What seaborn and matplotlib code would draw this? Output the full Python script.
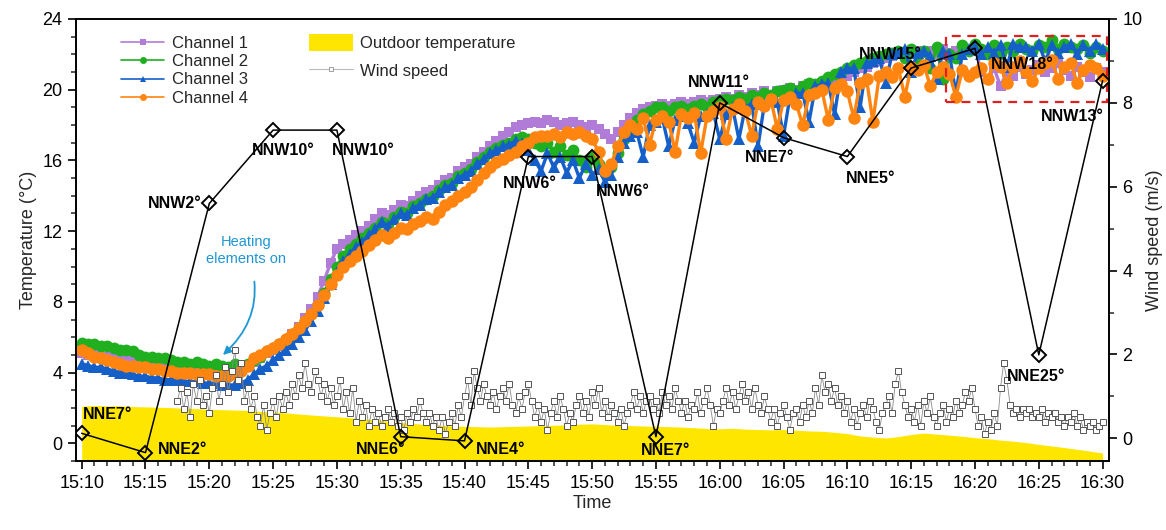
import numpy as np
import matplotlib
matplotlib.use("Agg")
import matplotlib.pyplot as plt
import seaborn as sns
from matplotlib.ticker import MultipleLocator
from matplotlib.patches import Rectangle, Patch
from matplotlib.lines import Line2D

# ---------------- data ----------------
time_labels = ["15:10", "15:15", "15:20", "15:25", "15:30", "15:35", "15:40", "15:45", "15:50",
               "15:55", "16:00", "16:05", "16:10", "16:15", "16:20", "16:25", "16:30"]

# channel temperatures (deg C), sampled every 0.5 min from 15:10
ch1 = [5.1, 5.0, 5.0, 4.9, 4.9, 4.8, 4.8, 4.7, 4.7, 4.6, 4.5, 4.5, 4.4, 4.4, 4.3, 4.3, 4.2, 4.2, 4.1, 4.1, 4.0, 4.0, 4.1, 4.0, 4.2,
       4.3, 4.4, 4.6, 4.8, 5.1, 5.3, 5.5, 5.8, 6.2, 6.6, 7.1, 7.6, 8.3, 9.2, 10.2, 11.0,
       11.3, 11.5, 11.8, 12.0, 12.3, 12.7, 13.0, 12.9, 13.2, 13.5, 13.4, 13.7, 14.0, 14.2, 14.3, 14.6, 14.9, 15.0, 15.4, 15.6,
       15.8, 16.2, 16.5, 16.8, 17.1, 17.4, 17.6, 17.9, 18.0, 18.1, 18.2, 18.1, 18.3, 18.2, 18.0, 18.1, 18.2, 18.0, 17.9, 18.0,
       17.8, 17.5, 17.2, 17.6, 18.0, 18.4, 18.7, 18.9, 19.0, 19.1, 19.2, 19.1, 19.2, 19.3, 19.2, 19.3, 19.4, 19.3, 19.4, 19.5,
       19.6, 19.5, 19.7, 19.6, 19.8, 19.7, 19.9, 19.3, 19.9, 20.0, 20.1, 20.0, 20.2, 20.3, 20.2, 20.4, 20.5, 20.6, 20.7, 20.8,
       21.0, 21.2, 21.3, 21.5, 21.6, 21.8, 21.9, 22.0, 22.1, 22.0, 22.2, 22.1, 22.2, 22.0, 22.3, 22.1, 22.2, 22.3, 22.2, 22.4,
       21.0, 20.6, 21.2, 20.2, 21.0, 20.8, 21.3, 20.9, 21.1, 21.4, 21.0, 21.2, 21.5, 21.1, 20.8, 21.3, 21.0, 20.7, 21.2, 21.0]
ch2 = [5.7, 5.6, 5.6, 5.5, 5.5, 5.4, 5.3, 5.3, 5.2, 5.0, 4.9, 4.9, 4.8, 4.8, 4.7, 4.6, 4.6, 4.5, 4.6, 4.5, 4.4, 4.5, 4.4, 4.3, 4.5,
       4.4, 4.5, 4.7, 4.9, 5.2, 5.4, 5.6, 5.9, 6.2, 6.5, 6.9, 7.3, 7.8, 8.5, 9.3, 10.0,
       10.6, 11.0, 11.3, 11.6, 11.9, 12.2, 12.5, 12.4, 12.8, 13.1, 13.0, 13.4, 13.6, 13.8, 14.0, 14.3, 14.6, 14.7, 15.1, 15.3,
       15.5, 15.9, 16.2, 16.5, 16.7, 16.9, 17.0, 17.2, 17.3, 17.2, 17.0, 16.8, 17.0, 16.5, 16.8, 16.3, 16.6, 16.0, 15.6, 16.2,
       15.8, 15.3, 15.6, 16.4, 17.2, 17.8, 18.3, 18.6, 18.8, 19.0, 19.0, 18.8, 19.0, 19.1, 18.9, 19.1, 19.2, 19.0, 19.3, 19.4,
       19.5, 19.4, 19.6, 19.5, 19.7, 19.6, 19.8, 19.7, 19.9, 20.0, 20.1, 19.9, 20.2, 20.4, 20.3, 20.5, 20.7, 20.9, 21.0, 21.2,
       21.4, 21.5, 21.6, 21.8, 21.9, 22.0, 22.1, 22.2, 21.8, 22.3, 21.5, 22.2, 21.2, 22.4, 20.6, 22.0, 21.8, 22.5, 22.2, 22.6,
       22.3, 22.0, 22.5, 22.1, 22.4, 22.2, 22.6, 22.3, 22.2, 22.5, 22.4, 22.8, 22.3, 22.6, 22.4, 22.3, 22.5, 22.1, 22.4, 22.2]
ch3 = [4.5, 4.4, 4.3, 4.3, 4.2, 4.1, 4.0, 4.0, 3.9, 3.8, 3.8, 3.7, 3.7, 3.6, 3.6, 3.6, 3.5, 3.5, 3.5, 3.4, 3.4, 3.4, 3.3, 3.3, 3.3,
       3.4, 3.6, 3.9, 4.2, 4.4, 4.7, 5.0, 5.3, 5.6, 6.0, 6.4, 6.9, 7.5, 8.2, 9.0, 9.7,
       10.3, 10.7, 11.1, 11.4, 11.8, 12.1, 12.5, 12.3, 12.7, 13.0, 12.9, 13.3, 13.5, 13.8, 13.9, 14.2, 14.5, 14.6, 15.0, 15.2,
       15.4, 15.8, 16.1, 16.4, 16.6, 16.8, 16.9, 17.1, 17.0, 16.6, 16.0, 15.4, 16.4, 15.6, 16.2, 15.3, 16.0, 15.0, 15.8, 15.2,
       15.5, 14.8, 15.2, 16.2, 17.0, 17.4, 17.6, 16.2, 18.0, 18.2, 18.4, 16.8, 18.3, 18.5, 18.1, 17.0, 18.5, 18.6, 18.7, 17.2,
       18.6, 19.0, 17.2, 19.0, 19.2, 16.8, 19.2, 19.4, 19.3, 17.4, 19.6, 19.8, 19.8, 18.2, 20.2, 20.3, 20.4, 18.6, 21.0, 21.2,
       21.2, 19.0, 21.5, 21.6, 21.8, 20.4, 22.0, 22.1, 22.3, 21.0, 22.1, 22.2, 21.9, 20.6, 22.2, 22.0, 19.8, 22.0, 22.3, 22.4,
       22.0, 22.4, 22.1, 22.5, 21.3, 22.6, 22.4, 22.4, 22.2, 22.6, 21.6, 22.5, 22.1, 22.4, 22.6, 22.0, 22.5, 22.2, 22.6, 22.3]
ch4 = [5.3, 5.1, 4.9, 4.8, 4.7, 4.6, 4.5, 4.4, 4.4, 4.3, 4.3, 4.2, 4.2, 4.1, 4.1, 4.0, 4.0, 4.0, 3.9, 3.9, 3.9, 3.8, 3.8, 3.8, 3.9,
       4.1, 4.4, 4.8, 5.0, 5.2, 5.4, 5.6, 5.9, 6.2, 6.5, 6.9, 7.3, 7.8, 8.4, 9.0, 9.5,
       10.0, 10.3, 10.6, 10.9, 11.2, 11.5, 11.8, 11.6, 11.9, 12.2, 12.1, 12.4, 12.6, 12.8, 12.7, 13.1, 13.5, 13.7, 14.0, 14.2,
       14.5, 14.9, 15.3, 15.6, 15.9, 16.1, 16.3, 16.5, 16.8, 17.0, 17.3, 17.4, 17.4, 17.5, 17.3, 17.6, 17.5, 17.6, 17.4, 17.2,
       16.5, 15.4, 15.8, 16.8, 17.6, 18.0, 17.8, 18.4, 16.9, 18.3, 18.5, 18.2, 16.5, 18.6, 18.4, 18.7, 16.4, 18.5, 18.8, 19.0,
       17.2, 18.9, 19.2, 18.8, 17.4, 19.3, 19.1, 19.5, 17.8, 19.4, 19.6, 19.2, 18.0, 19.7, 19.8, 20.0, 18.3, 20.1, 20.3, 19.9,
       18.4, 20.4, 20.6, 18.2, 20.8, 21.0, 20.7, 21.2, 19.6, 21.3, 21.1, 21.4, 20.2, 21.0, 21.3, 20.9, 19.6, 21.1, 20.8, 21.0,
       21.2, 20.6, 21.5, 21.3, 20.4, 21.3, 21.6, 21.0, 20.5, 21.2, 21.5, 21.7, 20.6, 21.3, 21.5, 20.4, 21.1, 21.4, 21.2, 20.8]

# outdoor temperature (deg C), every 1 min from 15:10
outdoor = [2.10, 2.14, 2.12, 2.13, 2.08, 2.06, 2.04, 2.02, 1.98, 1.96, 1.92, 1.90, 1.88, 1.86, 1.80, 1.76,
           1.72, 1.66, 1.60, 1.55, 1.50, 1.45, 1.38, 1.32, 1.25, 1.18, 1.12, 1.06, 1.02, 0.98, 0.96, 0.94,
           0.92, 0.94, 0.96, 0.98, 1.00, 1.02, 1.05, 1.08, 1.10, 1.06, 1.02, 1.00, 0.98, 0.96, 0.94, 0.92,
           0.88, 0.84, 0.82, 0.85, 0.80, 0.78, 0.76, 0.78, 0.74, 0.70, 0.68, 0.62, 0.55, 0.42, 0.35, 0.30,
           0.38, 0.50, 0.58, 0.52, 0.46, 0.40, 0.32, 0.26, 0.18, 0.12, 0.04, -0.06, -0.15, -0.24, -0.34, -0.44, -0.55]

# wind speed (m/s), every 0.25 min from 15:17.5
wind = [0.9, 1.2,
        0.7, 1.1, 0.5, 1.3, 0.9, 1.4, 0.8, 1.0, 0.6, 1.2, 1.5, 0.9, 1.3, 1.7, 1.1, 1.6,
        2.1, 1.4, 1.8, 0.9, 1.2, 0.7, 1.0, 0.5, 0.3, 0.8, 0.2, 0.6, 0.9, 0.5, 1.0, 0.7,
        1.1, 0.8, 1.3, 1.0, 1.5, 1.2, 1.8, 1.3, 1.1, 1.6, 1.4, 1.0, 1.3, 0.9, 1.2, 0.8,
        1.0, 1.4, 0.7, 1.1, 0.6, 1.2, 0.4, 0.9, 0.5, 0.8, 0.3, 0.7, 0.4, 0.6, 0.3, 0.5,
        0.7, 0.4, 0.6, 0.3, 0.5, 0.2, 0.6, 0.4, 0.7, 0.5, 0.9, 0.6, 0.4, 0.6, 0.3, 0.5,
        0.2, 0.5, 0.1, 0.4, 0.6, 0.3, 0.8, 0.5, 1.0, 1.4, 0.8, 1.6, 1.2, 0.9, 1.3, 1.0,
        0.8, 1.1, 0.7, 1.0, 1.2, 0.9, 1.3, 0.8, 0.6, 1.0, 0.7, 1.1, 1.3, 0.9, 0.5, 0.8,
        0.4, 0.7, 0.2, 0.6, 0.9, 0.5, 1.0, 0.7, 0.3, 0.6, 0.4, 0.8, 1.0, 0.6, 0.9, 0.5,
        1.1, 0.8, 1.2, 0.6, 0.9, 0.5, 0.8, 0.6, 0.4, 0.7, 0.3, 0.6, 0.8, 1.1, 0.7, 1.0,
        0.6, 0.9, 1.0, 0.7, 0.9, 0.6, 1.1, 0.8, 1.0, 0.7, 1.2, 0.9, 0.6, 0.9, 0.5, 0.8,
        0.7, 1.1, 0.6, 0.9, 1.2, 0.8, 0.3, 0.7, 0.6, 0.9, 1.2, 0.8, 1.1, 0.7, 1.0, 1.3,
        0.9, 1.1, 0.7, 1.2, 0.8, 0.6, 1.0, 0.7, 0.4, 0.7, 0.3, 0.6, 0.8, 0.5, 0.2, 0.6,
        0.7, 0.4, 0.8, 0.5, 0.9, 0.6, 1.2, 0.8, 1.5, 1.1, 1.3, 0.9, 1.2, 0.8, 1.0, 0.6,
        0.9, 0.4, 0.7, 0.3, 0.6, 0.8, 0.5, 0.9, 0.7, 0.4, 0.2, 0.6, 0.8, 1.0, 0.6, 1.3,
        1.6, 1.1, 0.8, 0.5, 0.7, 0.4, 0.8, 0.3, 0.9, 0.6, 1.0, 0.5, 0.3, 0.6, 0.8, 0.4,
        0.7, 0.5, 0.9, 0.6, 0.8, 1.1, 0.9, 1.2, 0.7, 0.3, 0.5, 0.1, 0.4, 0.2, 0.6, 0.3,
        1.2, 1.8, 1.4, 0.8, 0.6, 0.7, 0.5, 0.7, 0.6, 0.7, 0.5, 0.6, 0.5, 0.7, 0.4, 0.6,
        0.5, 0.6, 0.4, 0.5, 0.3, 0.5, 0.4, 0.6, 0.3, 0.5, 0.2, 0.4, 0.3, 0.4, 0.2, 0.3,
        0.4]

# wind direction readings every 5 min
dir_speed = [0.12, -0.34, 5.6, 7.35, 7.35, 0.04, -0.06, 6.72, 6.72, 0.04, 8.0, 7.17, 6.72, 8.83, 9.3, 1.99, 8.53]
dir_labels = ["NNE7°", "NNE2°", "NNW2°", "NNW10°", "NNW10°", "NNE6°", "NNE4°", "NNW6°", "NNW6°",
              "NNE7°", "NNW11°", "NNE7°", "NNE5°", "NNW15°", "NNW18°", "NNE25°", "NNW13°"]

channel_names = ["Channel 1", "Channel 2", "Channel 3", "Channel 4"]

# ---------------- sampling grids (minutes after 15:10) ----------------
t_ch = np.linspace(0, 80, len(ch1))
t_out = np.linspace(0, 80, len(outdoor))
t_wind = np.linspace(7.5, 80, len(wind))
t_dir = np.linspace(0, 80, len(dir_speed))
tick_pos = np.linspace(0, 80, len(time_labels))

# ---------------- style ----------------
sns.set_theme(style="ticks")
plt.rcParams['font.family'] = ['Liberation Sans', 'DejaVu Sans']
plt.rcParams['axes.linewidth'] = 1.2

c_purple = '#B07CD8'
c_green = '#1FAF1F'
c_blue = '#1560C8'
c_orange = '#FF8410'
c_yellow = '#FFE600'
c_heat = '#1E96D4'

fig = plt.figure(figsize=(11.66, 5.30), dpi=100)
ax = fig.add_axes([0.0649, 0.1302, 0.8862, 0.834])
ax2 = ax.twinx()

# outdoor temperature fill
ax.fill_between(t_out, outdoor, -1, color=c_yellow, linewidth=0, zorder=1)

# channels
styles = [(ch1, c_purple, 's', 7.5), (ch2, c_green, 'o', 8.5), (ch3, c_blue, '^', 9.0), (ch4, c_orange, 'o', 9.0)]
for (vals, col, mk, ms) in styles:
    sns.lineplot(x=t_ch, y=vals, ax=ax, color=col, marker=mk, markersize=ms, markeredgewidth=0,
                 linewidth=2.4, estimator=None, sort=False, legend=False, zorder=3)

# red dashed rectangle
ax.add_patch(Rectangle((67.7, 19.3), 12.65, 3.75, fill=False, edgecolor='#E0201E',
                       linestyle=(0, (4, 3)), linewidth=1.6, zorder=6))

# wind speed
sns.lineplot(x=t_wind, y=wind, ax=ax2, color='#8a8a8a', linewidth=0.6, marker='s', markersize=4.6,
             markerfacecolor='white', markeredgecolor='#555555', markeredgewidth=0.7,
             estimator=None, sort=False, legend=False, zorder=2)

# wind direction diamonds
sns.lineplot(x=t_dir, y=dir_speed, ax=ax2, color='black', linewidth=1.1, marker='D', markersize=7,
             markerfacecolor='none', markeredgecolor='black', markeredgewidth=1.4,
             estimator=None, sort=False, legend=False, zorder=4)

label_offsets = [(18.6, 13.9), (27, 2.2), (-25, 0), (7.2, -14.4), (18.8, -14.4), (-14.4, -9.4),
                 (26, -6.5), (1.2, -19.4), (21.9, -25.2), (6.9, -10), (-0.5, 14.4), (-10, -14.6),
                 (16.5, -15.5), (-15, 9.8), (34, -11.6), (-2, -15.5), (-22, -26)]
for t, v, lab, off in zip(t_dir, dir_speed, dir_labels, label_offsets):
    ax2.annotate(lab, xy=(t, v), xytext=off, textcoords='offset points', ha='center', va='center',
                 fontsize=11.5, fontweight='bold', color='black', zorder=7)

# heating annotation
ax.annotate("Heating\nelements on", xy=(11.07, 5.0), xytext=(12.9, 10.9), ha='center', va='center',
            fontsize=10.5, color=c_heat, linespacing=1.25,
            arrowprops=dict(arrowstyle='-|>', color=c_heat, lw=1.3, mutation_scale=12,
                            shrinkA=9, shrinkB=0, connectionstyle='arc3,rad=-0.35'))

# axes limits and ticks
ax.set_xlim(-0.47, 80.5)
ax.set_ylim(-1, 24)
ax2.set_ylim(-0.54, 10)
ax.set_xticks(tick_pos)
ax.set_xticklabels(time_labels)
ax.xaxis.set_minor_locator(MultipleLocator(1))
ax.yaxis.set_major_locator(MultipleLocator(4))
ax.yaxis.set_minor_locator(MultipleLocator(1))
ax2.yaxis.set_major_locator(MultipleLocator(2))
ax2.yaxis.set_minor_locator(MultipleLocator(1))

for a in (ax, ax2):
    a.tick_params(which='major', length=6, width=1.2, labelsize=13, colors='black', direction='out')
    a.tick_params(which='minor', length=3.5, width=1.1, direction='out')
    for s in a.spines.values():
        s.set_visible(True)
        s.set_linewidth(1.2)
        s.set_color('black')
ax.tick_params(axis='x', which='both', top=False, pad=4)
ax.tick_params(axis='y', which='both', right=False, left=True)
ax2.tick_params(axis='y', which='both', right=True, left=False)

ax.set_xlabel("Time", fontsize=13, labelpad=2)
ax.set_ylabel("Temperature (°C)", fontsize=13, labelpad=4)
ax2.set_ylabel("Wind speed (m/s)", fontsize=13, labelpad=3)

# legends
ch_handles = [Line2D([0], [0], color=c, marker=m, markersize=5, markeredgewidth=0, linewidth=1.2)
              for c, m in [(c_purple, 's'), (c_green, 'o'), (c_blue, '^'), (c_orange, 'o')]]
leg1 = ax2.legend(ch_handles, channel_names, loc='upper left', bbox_to_anchor=(0.044, 0.962),
                  frameon=False, fontsize=12, handlelength=2.6, handletextpad=0.45,
                  labelspacing=0.2, borderpad=0, borderaxespad=0)
ax2.add_artist(leg1)
o_handles = [Patch(facecolor=c_yellow, edgecolor='none'),
             Line2D([0], [0], color='#bbbbbb', linewidth=0.8, marker='s', markersize=2.5,
                    markerfacecolor='white', markeredgecolor='#777777', markeredgewidth=0.5)]
leg2 = ax2.legend(o_handles, ["Outdoor temperature", "Wind speed"], loc='upper left',
                  bbox_to_anchor=(0.226, 0.966), frameon=False, fontsize=12, handlelength=2.6,
                  handleheight=1.2, handletextpad=0.45, labelspacing=0.65, borderpad=0, borderaxespad=0)

fig.savefig("out.png", dpi=100)
